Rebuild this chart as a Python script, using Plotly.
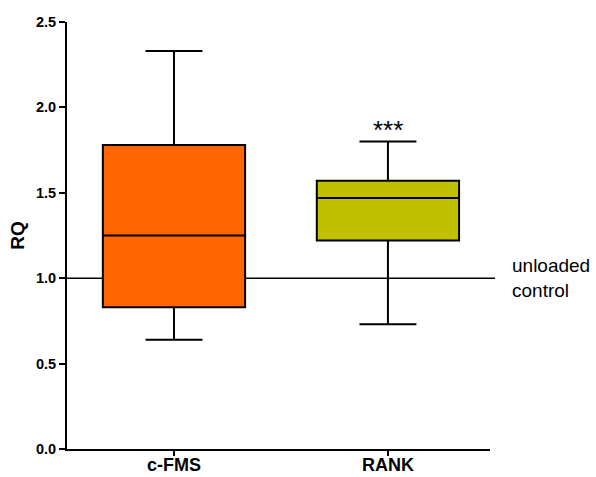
import plotly.graph_objects as go

# Box statistics per marker gene (relative quantification, RQ)
genes = ["c-FMS", "RANK"]
lower_fence = [0.64, 0.73]
q1 = [0.83, 1.22]
median = [1.25, 1.47]
q3 = [1.78, 1.57]
upper_fence = [2.33, 1.80]
colors = ["#FF6600", "#C0C000"]

control_level = 1.0
significance = {"RANK": "***"}
y_ticks = [0.0, 0.5, 1.0, 1.5, 2.0, 2.5]

FONT = "Liberation Sans, Arial"

fig = go.Figure()
for i, g in enumerate(genes):
    fig.add_trace(go.Box(
        x=[g],
        q1=[q1[i]], median=[median[i]], q3=[q3[i]],
        lowerfence=[lower_fence[i]], upperfence=[upper_fence[i]],
        fillcolor=colors[i],
        line=dict(color="black", width=2),
        width=0.665,
        whiskerwidth=0.4,
        boxpoints=False,
        showlegend=False,
        hoverinfo="skip",
    ))

# Reference line for the unloaded control
fig.add_shape(type="line", xref="paper", yref="y",
              x0=0, x1=1.012, y0=control_level, y1=control_level,
              line=dict(color="black", width=1.5), layer="below")
fig.add_annotation(xref="paper", yref="y", x=1.048, y=control_level,
                   text="unloaded<br>control", showarrow=False,
                   xanchor="left", yanchor="middle", align="left",
                   font=dict(family=FONT, size=19, color="black"))

for g, label in significance.items():
    idx = genes.index(g)
    fig.add_annotation(x=g, y=upper_fence[idx], text=label, showarrow=False,
                       yanchor="bottom", yshift=-5,
                       font=dict(family=FONT, size=26, color="black"))

fig.update_layout(
    width=596, height=477,
    margin=dict(l=67, r=106, t=22, b=28),
    plot_bgcolor="white", paper_bgcolor="white",
    font=dict(family=FONT, color="black"),
)
fig.update_xaxes(
    range=[-0.5, 1.477],
    showline=True, linecolor="black", linewidth=2,
    ticks="outside", ticklen=5, tickwidth=2, tickcolor="black",
    tickfont=dict(size=18, weight="bold"),
    ticklabelstandoff=-7,
    showgrid=False, zeroline=False, automargin=False,
)
fig.update_yaxes(
    range=[0, 2.5],
    tickvals=y_ticks, ticktext=[f"{v:.1f}" for v in y_ticks],
    showline=True, linecolor="black", linewidth=2,
    ticks="outside", ticklen=6, tickwidth=2, tickcolor="black",
    tickfont=dict(size=14.5, weight="bold"),
    title=dict(text="RQ", font=dict(size=19, weight="bold"), standoff=6),
    showgrid=False, zeroline=False, automargin=False,
)

fig.write_html("out.html")
